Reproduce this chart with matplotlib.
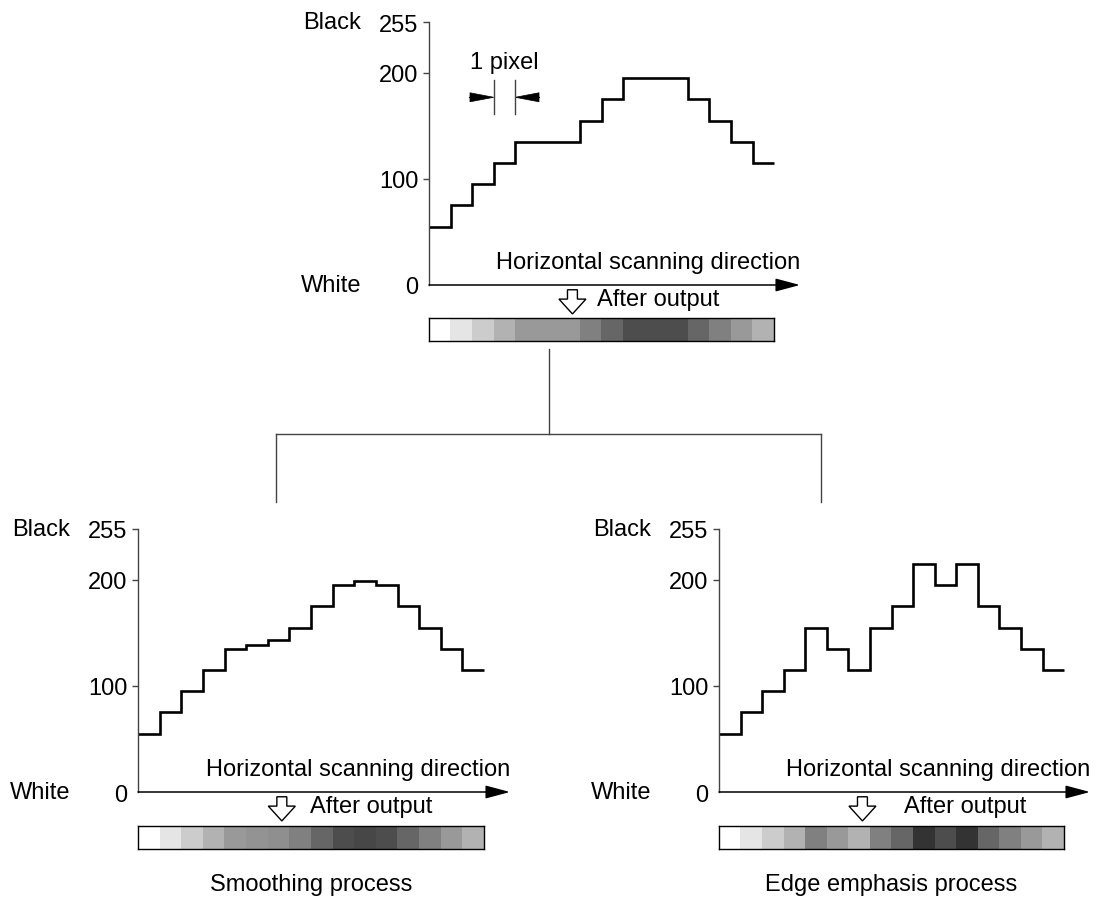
import matplotlib
matplotlib.use("Agg")
import matplotlib.pyplot as plt
from matplotlib.patches import FancyArrow
from matplotlib.lines import Line2D
import numpy as np

plt.rcParams['font.family'] = ['Liberation Sans', 'DejaVu Sans']

W, H = 1099, 903

# density of each pixel along the scan line (0 = white, 255 = black)
original_values = [55, 75, 95, 115, 135, 135, 135, 155, 175, 195, 195, 195, 175, 155, 135, 115]
smoothing_values = [55, 75, 95, 115, 135, 139, 143, 155, 175, 195, 199, 195, 175, 155, 135, 115]
edge_values = [55, 75, 95, 115, 155, 135, 115, 155, 175, 215, 195, 215, 175, 155, 135, 115]

# gray level of each printed cell (255 = white)
original_grays = [255, 229, 204, 178, 153, 153, 153, 128, 102, 77, 77, 77, 102, 128, 153, 178]
smoothing_grays = [255, 229, 204, 178, 153, 148, 143, 128, 102, 77, 71, 77, 102, 128, 153, 178]
edge_grays = [255, 229, 204, 178, 128, 153, 178, 128, 102, 51, 77, 51, 102, 128, 153, 178]

ytick_values = [0, 100, 200, 248]
ytick_labels = ['0', '100', '200', '255']

XMAX = 17.2
YTOP = 248
FS = 17
AXCOL = '#444444'


# add an axes from pixel coords of the picture
def px_axes(fig, x0, y0, x1, y1):
    return fig.add_axes([x0 / W, 1 - y1 / H, (x1 - x0) / W, (y1 - y0) / H])


# one density chart with its axis, labels and the gray strip under it
def draw_chart(fig, rect, values, grays, bar_rect, after_text_x):
    ax = px_axes(fig, *rect)
    ax.stairs(values, np.arange(len(values) + 1), baseline=None,
              color='black', lw=1.9, clip_on=False)
    ax.set_xlim(0, XMAX)
    ax.set_ylim(0, YTOP)
    for s in ['top', 'right', 'bottom']:
        ax.spines[s].set_visible(False)
    ax.spines['left'].set_color(AXCOL)
    ax.spines['left'].set_linewidth(1.0)
    ax.set_xticks([])
    ax.set_yticks(ytick_values, ytick_labels)
    ax.tick_params(axis='y', length=4.5, width=1.0, color=AXCOL,
                   labelsize=FS, pad=3)
    ax.yaxis.get_major_ticks()[0].tick1line.set_visible(False)
    ax.patch.set_visible(False)

    # x axis with arrow head
    ax.annotate('', xy=(XMAX, 0), xytext=(0, 0), annotation_clip=False,
                arrowprops=dict(arrowstyle='-|>,head_length=0.75,head_width=0.2',
                                mutation_scale=20, color='black', lw=1.1,
                                shrinkA=0, shrinkB=0))

    ax.annotate('Black', xy=(0, YTOP), xycoords=('axes fraction', 'data'),
                xytext=(-68 * 0.72, 0), textcoords='offset points',
                ha='right', va='center', fontsize=FS)
    ax.annotate('White', xy=(0, 0), xycoords=('axes fraction', 'data'),
                xytext=(-68 * 0.72, 0), textcoords='offset points',
                ha='right', va='center', fontsize=FS)
    ax.text(XMAX, 22, 'Horizontal scanning direction', ha='right', va='center',
            fontsize=FS)

    # hollow arrow down to the printed strip
    arr = FancyArrow(6.65, -4.5, 0, -22.8, width=0.46, head_width=1.25,
                     head_length=14, length_includes_head=True,
                     fc='white', ec='black', lw=1.0, clip_on=False)
    ax.add_patch(arr)
    ax.text(after_text_x, -13.5, 'After output', ha='left', va='center', fontsize=FS)

    bax = px_axes(fig, *bar_rect)
    bax.imshow(np.array(grays)[None, :], cmap='gray', vmin=0, vmax=255,
               aspect='auto', extent=(0, len(grays), 0, 1))
    bax.set_xticks([])
    bax.set_yticks([])
    for s in bax.spines.values():
        s.set_color('black')
        s.set_linewidth(1.0)
    return ax


fig = plt.figure(figsize=(W / 100, H / 100), dpi=100)

ax_top = draw_chart(fig, (429, 23, 800, 286), original_values, original_grays,
                    (429, 319, 774, 342), 7.8)
ax_left = draw_chart(fig, (138, 530, 510, 793), smoothing_values, smoothing_grays,
                     (138, 827, 484, 850), 7.96)
ax_right = draw_chart(fig, (719, 530, 1090, 793), edge_values, edge_grays,
                      (719, 827, 1064, 850), 8.6)

# "1 pixel" marker on the top chart
ax_top.text(3.48, 210, '1 pixel', ha='center', va='center', fontsize=FS)
ax_top.plot([3, 3], [161, 193], color=AXCOL, lw=1.0)
ax_top.plot([4, 4], [161, 193], color=AXCOL, lw=1.0)
ax_top.add_patch(FancyArrow(1.86, 177, 1.14, 0, width=0.01, head_width=8.5,
                            head_length=1.1, length_includes_head=True,
                            fc='black', ec='black', lw=0.5))
ax_top.add_patch(FancyArrow(5.14, 177, -1.14, 0, width=0.01, head_width=8.5,
                            head_length=1.1, length_includes_head=True,
                            fc='black', ec='black', lw=0.5))

# tree lines joining the charts
tree = [([549, 549], [350, 435]), ([276, 821], [435, 435]),
        ([276, 276], [435, 503]), ([821, 821], [435, 503])]
for xs, ys in tree:
    fig.add_artist(Line2D([x / W for x in xs], [1 - y / H for y in ys],
                          color=AXCOL, lw=1.0))

fig.text(311 / W, 1 - 885 / H, 'Smoothing process', ha='center', va='center', fontsize=FS)
fig.text(891 / W, 1 - 885 / H, 'Edge emphasis process', ha='center', va='center', fontsize=FS)

fig.savefig('out.png', dpi=100)
